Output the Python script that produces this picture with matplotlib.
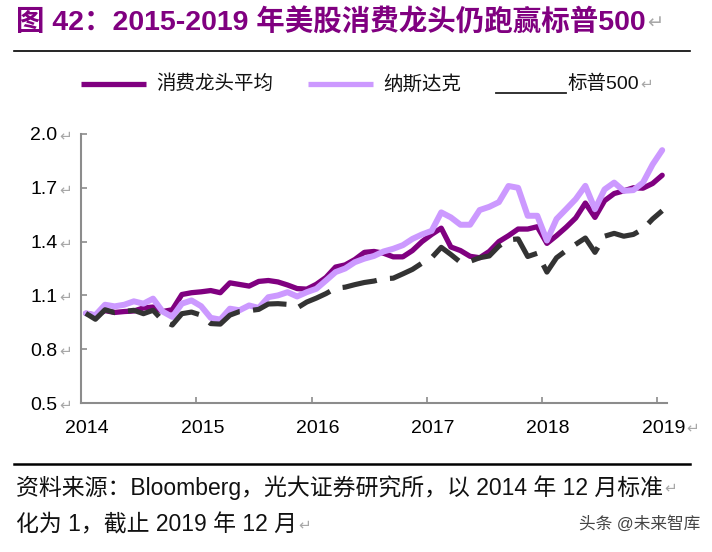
"""Consumer leaders vs Nasdaq vs S&P 500, normalised to Dec 2014 = 1.

Writes out.png (712x552).
"""

import numpy as np
import matplotlib
matplotlib.use("Agg")
import matplotlib.pyplot as plt
from matplotlib.lines import Line2D
from matplotlib.text import Annotation
from matplotlib.transforms import ScaledTranslation

plt.rcParams["font.family"] = ["Liberation Sans", "Noto Sans CJK SC", "DejaVu Sans"]

# monthly, Dec 2014 .. Dec 2019 (61 points)
MONTHS = np.arange(61)
YEAR_LABELS = ["2014", "2015", "2016", "2017", "2018", "2019"]
Y_TICKS = [0.5, 0.8, 1.1, 1.4, 1.7, 2.0]

CONSUMER = [1.00, 0.99, 1.015, 1.005, 1.01, 1.013, 1.03, 1.035, 1.01, 1.02,
            1.105, 1.115, 1.12, 1.127, 1.115, 1.17, 1.161, 1.152, 1.178, 1.183,
            1.175, 1.158, 1.138, 1.135, 1.162, 1.20, 1.258, 1.27, 1.30, 1.34,
            1.345, 1.335, 1.315, 1.315, 1.35, 1.40, 1.44, 1.475, 1.37, 1.35,
            1.318, 1.31, 1.345, 1.40, 1.433, 1.47, 1.47, 1.483, 1.39, 1.433,
            1.48, 1.532, 1.615, 1.535, 1.628, 1.668, 1.683, 1.70, 1.698, 1.724,
            1.77]
NASDAQ = [1.00, 0.99, 1.048, 1.039, 1.048, 1.067, 1.054, 1.082, 1.01, 0.98,
          1.054, 1.072, 1.04, 0.975, 0.965, 1.026, 1.017, 1.044, 1.03, 1.09,
          1.10, 1.118, 1.094, 1.118, 1.137, 1.183, 1.23, 1.25, 1.285, 1.305,
          1.32, 1.345, 1.36, 1.38, 1.415, 1.44, 1.46, 1.563, 1.535, 1.494,
          1.494, 1.576, 1.594, 1.62, 1.71, 1.70, 1.544, 1.544, 1.406, 1.526,
          1.581, 1.637, 1.711, 1.581, 1.691, 1.729, 1.683, 1.687, 1.729, 1.83,
          1.91]
SP500 = [1.00, 0.967, 1.02, 1.004, 1.01, 1.017, 0.998, 1.017, 0.96, 0.935,
         0.998, 1.007, 0.99, 0.943, 0.94, 0.99, 1.01, 1.015, 1.022, 1.052,
         1.054, 1.05, 1.03, 1.063, 1.085, 1.11, 1.14, 1.146, 1.16, 1.172,
         1.18, 1.193, 1.196, 1.22, 1.245, 1.28, 1.31, 1.368, 1.328, 1.285,
         1.29, 1.31, 1.32, 1.375, 1.41, 1.415, 1.317, 1.335, 1.23, 1.31,
         1.35, 1.385, 1.42, 1.34, 1.43, 1.446, 1.43, 1.44, 1.47, 1.526,
         1.572]

PURPLE = "#800080"
LILAC = "#cc99ff"
DARK = "#333333"
AXIS_GREY = "#8c8c8c"
MARK_GREY = "#a8a8a8"
ARROW = "\u21b5"

W, H = 712, 552


def fx(px):
    return px / W


def fy(py):
    return 1 - py / H


def return_mark(fig, anchor, size=11):
    # grey Word-style line-break mark right after a text
    fig.add_artist(Annotation(ARROW, xy=(1, 0.5), xycoords=anchor, xytext=(1, 0),
                              textcoords="offset points", ha="left", va="center",
                              fontsize=size, color=MARK_GREY, family="DejaVu Sans"))


fig = plt.figure(figsize=(W / 100, H / 100), dpi=100)

# title + rule
title = fig.text(fx(16), fy(23), "图 42：2015-2019 年美股消费龙头仍跑赢标普500",
                 fontsize=20.5, weight="bold", color=PURPLE, va="center")
return_mark(fig, title, 14)
fig.add_artist(Line2D([fx(14), fx(690)], [fy(51), fy(51)], color="black", lw=1.2))

# legend row
leg_y = fy(84)
fig.add_artist(Line2D([fx(81), fx(146)], [leg_y, leg_y], color=PURPLE, lw=3.8,
                      solid_capstyle="butt"))
fig.text(fx(156), leg_y, "消费龙头平均", fontsize=14, va="center", color="#111111")
fig.add_artist(Line2D([fx(308), fx(373)], [leg_y, leg_y], color=LILAC, lw=3.8,
                      solid_capstyle="butt"))
fig.text(fx(383), leg_y, "纳斯达克", fontsize=14, va="center", color="#111111")
fig.add_artist(Line2D([fx(496), fx(566)], [fy(93), fy(93)], color="#222222", lw=1.3))
sp_lab = fig.text(fx(567), leg_y, "标普500", fontsize=14, va="center", color="#111111")
return_mark(fig, sp_lab)

# plot area
ax = fig.add_axes([fx(81), 1 - 403 / H, 586 / W, 269 / H])
ax.plot(MONTHS, CONSUMER, color=PURPLE, lw=3.8, zorder=2,
        solid_joinstyle="round", solid_capstyle="round")
ax.plot(MONTHS, NASDAQ, color=LILAC, lw=4.3, zorder=3,
        solid_joinstyle="round", solid_capstyle="round")
ax.plot(MONTHS, SP500, color=DARK, lw=3.7, zorder=4, linestyle=(0, (6.8, 2.6)),
        dash_joinstyle="round")

ax.set_xlim(-0.5, 60.5)
ax.set_ylim(0.5, 2.0)
ax.set_xticks([12 * k - 0.5 for k in range(len(YEAR_LABELS))])
ax.set_xticklabels(YEAR_LABELS)
ax.set_yticks(Y_TICKS)
ax.set_yticklabels([f"{v:.1f}" for v in Y_TICKS])

for side in ("top", "right"):
    ax.spines[side].set_visible(False)
for side in ("left", "bottom"):
    ax.spines[side].set_color(AXIS_GREY)
    ax.spines[side].set_linewidth(1.5)
ax.tick_params(direction="in", length=4, width=1.2, color=AXIS_GREY,
               labelsize=14, labelcolor="black")
ax.tick_params(axis="y", pad=17)
ax.tick_params(axis="x", pad=12)

fig.canvas.draw()
# year labels sit a little right of their tick marks
shift = ScaledTranslation(6 / 100, 0, fig.dpi_scale_trans)
for lab in ax.get_xticklabels():
    lab.set_transform(lab.get_transform() + shift)
for lab in ax.get_yticklabels():
    return_mark(fig, lab)
return_mark(fig, ax.get_xticklabels()[-1])

# source note
fig.add_artist(Line2D([fx(14), fx(690)], [fy(464), fy(464)], color="black", lw=1.8))
src1 = fig.text(fx(16), fy(488), "资料来源：Bloomberg，光大证券研究所，以 2014 年 12 月标准",
                fontsize=16.5, va="center", color="#111111")
return_mark(fig, src1)
src2 = fig.text(fx(16), fy(525), "化为 1，截止 2019 年 12 月",
                fontsize=16.5, va="center", color="#111111")
return_mark(fig, src2)
fig.text(fx(700), fy(524), "头条 @未来智库", fontsize=12, ha="right", va="center",
         color="#444444")

fig.savefig("out.png", dpi=100)
